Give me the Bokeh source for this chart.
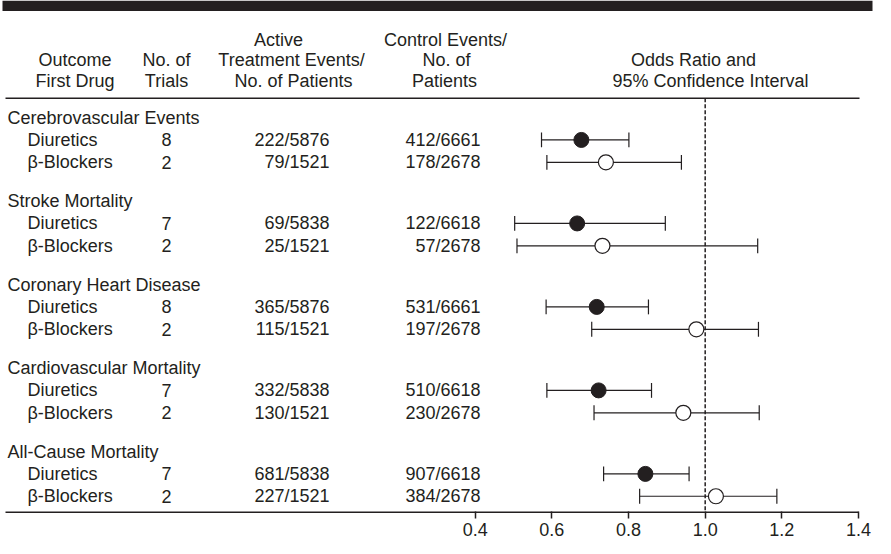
from bokeh.plotting import figure
from bokeh.models import Range1d, FixedTicker, ColumnDataSource, PrintfTickFormatter
from bokeh.core.properties import value
from bokeh.embed import file_html
from bokeh.resources import INLINE

# ---------------- data ----------------
outcomes = ["Cerebrovascular Events", "Stroke Mortality", "Coronary Heart Disease",
            "Cardiovascular Mortality", "All-Cause Mortality"]
drugs = ["Diuretics", "\u03b2-Blockers"]
trials_diur = ["8", "7", "8", "7", "7"]
trials_beta = ["2", "2", "2", "2", "2"]
active_diur = ["222/5876", "69/5838", "365/5876", "332/5838", "681/5838"]
active_beta = ["79/1521", "25/1521", "115/1521", "130/1521", "227/1521"]
control_diur = ["412/6661", "122/6618", "531/6661", "510/6618", "907/6618"]
control_beta = ["178/2678", "57/2678", "197/2678", "230/2678", "384/2678"]
or_diur = [0.677, 0.666, 0.717, 0.722, 0.844]
lo_diur = [0.573, 0.503, 0.585, 0.587, 0.735]
hi_diur = [0.801, 0.896, 0.852, 0.860, 0.958]
or_beta = [0.741, 0.732, 0.977, 0.943, 1.028]
lo_beta = [0.587, 0.509, 0.704, 0.710, 0.829]
hi_beta = [0.938, 1.137, 1.139, 1.141, 1.187]
x_ticks = [0.4, 0.6, 0.8, 1.0, 1.2, 1.4]
null_value = 1.0

# ---------------- layout helpers ----------------
W, H = 875, 538
INK = "#231f20"
FONT = value("Liberation Sans")
FS = "18px"


def xd(px):
    # page pixel -> odds-ratio data units (linear scale of the chart)
    return 0.4 + (px - 482.7) / 383.3


p = figure(width=W, height=H, output_backend="svg", toolbar_location=None,
           x_range=Range1d(xd(8), xd(883)), y_range=Range1d(528.0, 10.0),
           y_axis_location=None, x_axis_location="below",
           min_border_left=0, min_border_right=0, min_border_top=0, min_border_bottom=20)
p.grid.visible = False
p.outline_line_color = None
p.background_fill_color = "white"
p.border_fill_color = "white"

ax = p.xaxis[0]
ax.ticker = FixedTicker(ticks=x_ticks)
ax.formatter = PrintfTickFormatter(format="%.1f")
ax.axis_line_color = None
ax.major_tick_in = 2
ax.major_tick_out = 5
ax.major_tick_line_color = INK
ax.major_tick_line_width = 1.5
ax.minor_tick_line_color = None
ax.major_label_standoff = 4
ax.major_label_text_font = "Liberation Sans"
ax.major_label_text_font_size = FS
ax.major_label_text_color = INK

# thick top bar
p.quad(left=[xd(10)], right=[xd(880)], top=[10], bottom=[20.7], fill_color=INK, line_color=None)
# header rule and axis rule
p.segment(x0=[xd(13), xd(13)], x1=[xd(867), xd(866)], y0=[108.7, 526.7], y1=[108.7, 526.7],
          line_color=INK, line_width=1.5)
# null line
p.segment(x0=[null_value], x1=[null_value], y0=[108.7], y1=[526.7],
          line_color=INK, line_width=1.5, line_dash="4 2")


def txt(xs, ys, texts, align):
    src = ColumnDataSource(dict(x=xs, y=ys, t=texts))
    p.text(x="x", y="y", text="t", source=src, text_font=FONT, text_font_size=FS,
           text_color=INK, text_align=align, text_baseline="middle")


# header
hy = [50, 70, 91.7]
txt([xd(82.5), xd(82.5)], [hy[1], hy[2]], ["Outcome", "First Drug"], "center")
txt([xd(174), xd(174)], [hy[1], hy[2]], ["No. of", "Trials"], "center")
txt([xd(286), xd(299), xd(301)], hy, ["Active", "Treatment Events/", "No. of Patients"], "center")
txt([xd(453), xd(454), xd(452)], hy, ["Control Events/", "No. of", "Patients"], "center")
txt([xd(701), xd(718)], [hy[1], hy[2]], ["Odds Ratio and", "95% Confidence Interval"], "center")

# rows
G0, GP, DD, DB = 128.4, 84.3, 22.4, 45.0
title_y = [G0 + GP * g for g in range(len(outcomes))]
yd = [t + DD for t in title_y]
yb = [t + DB for t in title_y]
n = len(outcomes)

txt([xd(15)] * n, title_y, outcomes, "left")
txt([xd(35)] * (2 * n), yd + yb, [drugs[0]] * n + [drugs[1]] * n, "left")
txt([xd(174)] * (2 * n), yd + yb, trials_diur + trials_beta, "center")
txt([xd(337)] * (2 * n), yd + yb, active_diur + active_beta, "right")
txt([xd(488)] * (2 * n), yd + yb, control_diur + control_beta, "right")

# error bars
CAP = 7.5
for lo, hi, ys in ((lo_diur, hi_diur, yd), (lo_beta, hi_beta, yb)):
    p.segment(x0=lo, x1=hi, y0=ys, y1=ys, line_color=INK, line_width=1.2)
    p.segment(x0=lo + hi, x1=lo + hi, y0=[y - CAP for y in ys] * 2, y1=[y + CAP for y in ys] * 2,
              line_color=INK, line_width=1.2)

p.scatter(x=or_diur, y=yd, size=15, marker="circle", fill_color=INK, line_color=INK, line_width=1)
p.scatter(x=or_beta, y=yb, size=15, marker="circle", fill_color="white", line_color=INK, line_width=1.2)

open("out.html", "w").write(file_html(p, INLINE))
